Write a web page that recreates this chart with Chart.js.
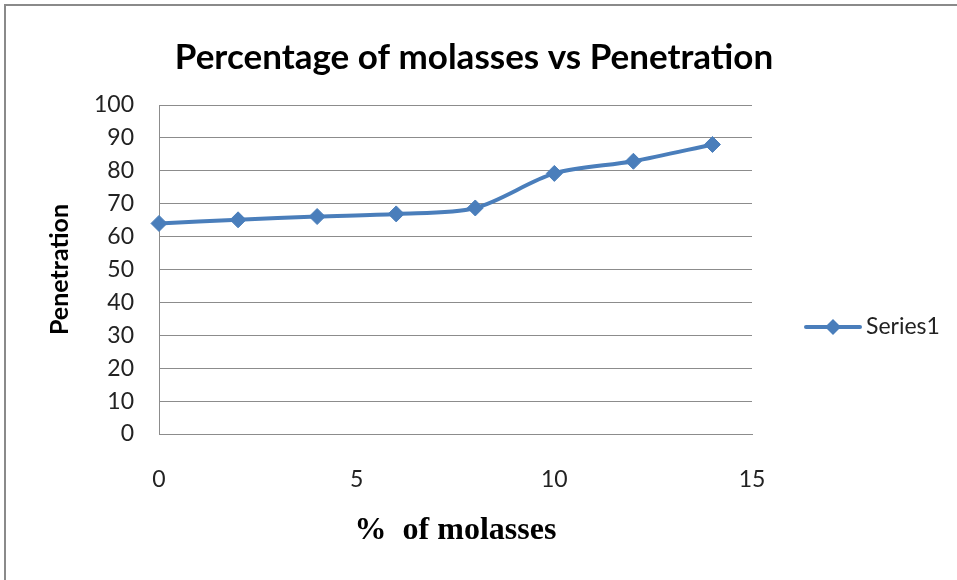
<!DOCTYPE html>
<html>
<head>
<meta charset="utf-8">
<script src="https://cdn.jsdelivr.net/npm/chart.js@4.4.1/dist/chart.umd.min.js"></script>
<style>
  html, body { margin: 0; padding: 0; background: #fff; overflow: hidden; }
  #wrap { position: relative; width: 957px; height: 580px; }
  #frame { position: absolute; left: 4px; top: 4px; width: 1000px; height: 1000px;
           border-left: 2px solid #8a8a8a; border-top: 2px solid #8a8a8a; pointer-events: none; }
</style>
</head>
<body>
<div id="wrap">
  <canvas id="molassesChart"></canvas>
  <div id="frame"></div>
</div>
<script>
// % of molasses and measured penetration
var molasses = [0, 2, 4, 6, 8, 10, 12, 14];
var penetration = [64, 65.1, 66.1, 66.9, 68.7, 79.2, 82.9, 88];
var xTicks = [0, 5, 10, 15];
var yTicks = [0, 10, 20, 30, 40, 50, 60, 70, 80, 90, 100];

var blue = '#4a7ebb';
var gridGray = '#8c8c8c';

var points = molasses.map(function (x, i) { return { x: x, y: penetration[i] }; });

// excel-style legend: a short line with a diamond, then the label
var sideLegend = {
    id: 'sideLegend',
    afterDraw: function (chart) {
        var ctx = chart.ctx;
        var ds = chart.data.datasets[0];
        var x0 = chart.chartArea.right + 54;
        var x1 = x0 + 54;
        var y = 327;
        var r = 8;
        ctx.save();
        ctx.strokeStyle = ds.borderColor;
        ctx.lineWidth = ds.borderWidth;
        ctx.lineCap = 'round';
        ctx.beginPath();
        ctx.moveTo(x0, y);
        ctx.lineTo(x1, y);
        ctx.stroke();
        var cx = (x0 + x1) / 2;
        ctx.fillStyle = ds.pointBackgroundColor;
        ctx.beginPath();
        ctx.moveTo(cx - r, y);
        ctx.lineTo(cx, y - r);
        ctx.lineTo(cx + r, y);
        ctx.lineTo(cx, y + r);
        ctx.closePath();
        ctx.fill();
        ctx.fillStyle = '#222';
        ctx.font = '23px Lato';
        ctx.textBaseline = 'middle';
        ctx.textAlign = 'left';
        ctx.fillText(ds.label, x1 + 6, y);
        ctx.restore();
    }
};

Chart.defaults.font.family = 'Lato';
Chart.defaults.color = '#222';

var ctx = document.getElementById('molassesChart').getContext('2d');
var chart = new Chart(ctx, {
    type: 'line',
    data: {
        datasets: [{
            label: 'Series1',
            data: points,
            borderColor: blue,
            borderWidth: 4,
            tension: 0.3,
            pointStyle: 'rectRot',
            pointRadius: 8,
            pointBackgroundColor: blue,
            pointBorderColor: blue,
            pointBorderWidth: 1,
            clip: false
        }]
    },
    options: {
        responsive: true,
        maintainAspectRatio: false,
        animation: false,
        layout: { padding: { right: 9 } },
        plugins: {
            legend: { display: false },
            tooltip: { enabled: false },
            title: {
                display: true,
                text: 'Percentage of molasses vs Penetration',
                color: '#000',
                font: { size: 35, weight: 'bold' },
                padding: { top: 37, bottom: 26 }
            }
        },
        scales: {
            x: {
                type: 'linear',
                min: 0,
                max: 15,
                afterBuildTicks: function (s) { s.ticks = xTicks.map(function (v) { return { value: v }; }); },
                afterFit: function (s) { s.height = 146; },
                grid: { display: false, drawTicks: false },
                border: { color: gridGray, width: 1 },
                ticks: { padding: 32, font: { size: 23 } },
                title: {
                    display: true,
                    text: '%  of molasses',
                    color: '#000',
                    font: { family: 'Liberation Serif', size: 32, weight: 'bold' },
                    padding: { top: 22, bottom: 30 }
                }
            },
            y: {
                min: 0,
                max: 100,
                afterBuildTicks: function (s) { s.ticks = yTicks.map(function (v) { return { value: v }; }); },
                afterFit: function (s) { s.width = 159; },
                grid: { color: gridGray, drawTicks: false },
                border: { color: gridGray, width: 1 },
                ticks: { padding: 25, font: { size: 23 } },
                title: {
                    display: true,
                    text: 'Penetration',
                    color: '#000',
                    font: { size: 25, weight: 'bold' },
                    padding: { top: 45, bottom: 0 }
                }
            },
            // empty right axis that keeps room for the legend
            side: {
                position: 'right',
                display: true,
                grid: { display: false },
                border: { display: false },
                ticks: { display: false },
                afterFit: function (s) { s.width = 196; }
            }
        }
    },
    plugins: [sideLegend]
});
</script>
</body>
</html>
